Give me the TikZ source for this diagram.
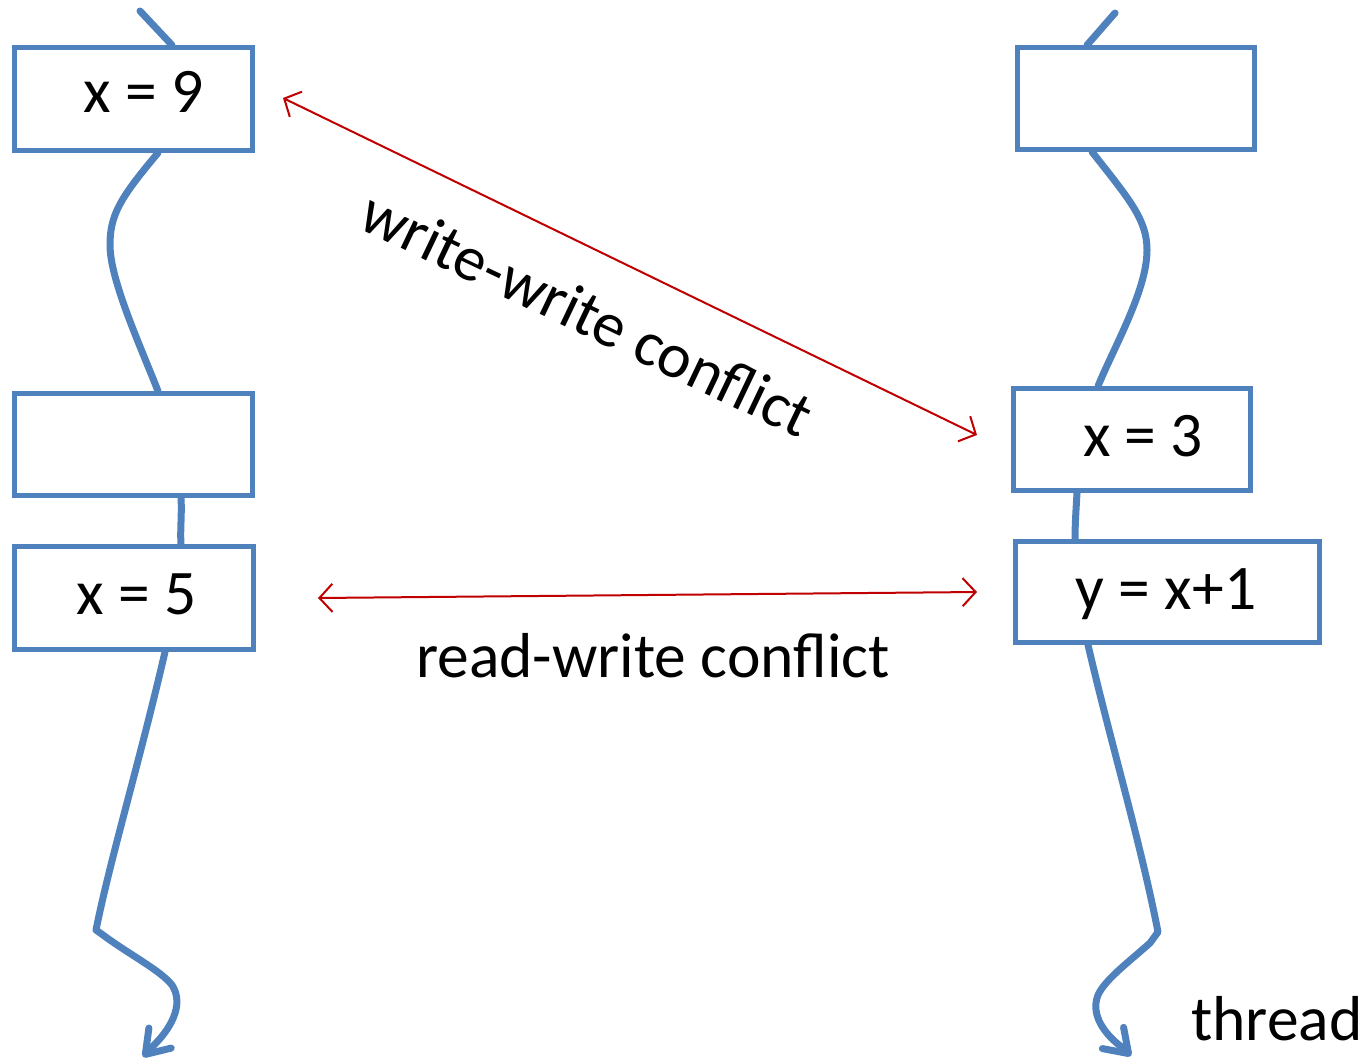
\documentclass[tikz,border=0pt]{standalone}
\usepackage{fontspec}
\setmainfont{Carlito}
\usetikzlibrary{arrows.meta,calc}
\definecolor{threadblue}{HTML}{4F81BD}
\definecolor{conflictred}{HTML}{C00000}
\begin{document}
\begin{tikzpicture}[x=1pt,y=-1pt,
  opbox/.style={draw=threadblue,line width=4.8pt,inner sep=0pt,minimum width=#1},
  opbox/.default=238pt,
  optext/.style={anchor=base,inner sep=0pt,font=\fontsize{63.5}{76}\selectfont},
  thread/.style={draw=threadblue,line width=7pt,line cap=round,line join=round},
  threadtip/.style={-{Straight Barb[length=22pt,width=30pt,round]}},
  conflict/.style={draw=conflictred,line width=2pt,{Straight Barb[length=13pt,width=28pt]}-{Straight Barb[length=13pt,width=28pt]}}]
\useasboundingbox (0,0) rectangle (1367,1060);

% left thread: operation boxes
\node[opbox,minimum height=103pt] (L1) at (133.5,99) {};
\node[opbox,minimum height=102pt] (L2) at (133.5,444.5) {};
\node[opbox=239pt,minimum height=103pt] (L3) at (134,598) {};
% right thread: operation boxes
\node[opbox=237pt,minimum height=102pt] (R1) at (1136,98.5) {};
\node[opbox=237pt,minimum height=102pt] (R2) at (1132,439.5) {};
\node[opbox=304pt,minimum height=101pt] (R3) at (1167.5,592) {};

% statements
\node[optext] (tL1) at (144,112) {x = 9};
\node[optext] (tL3) at (137,614) {x = 5};
\node[optext] (tR2) at (1143,456) {x = 3};
\node[optext] (tR3) at (1166,609) {y = x+1};

% left thread line
\coordinate (Ltop) at (140,11);
\coordinate (Lend) at (143,1057);
\draw[thread] (Ltop) -- (L1.north -| 172,0);
\draw[thread] (L1.south -| 158,0) .. controls (120,198) and (110,215) .. (110,245)
  .. controls (110,280) and (140,345) .. (L2.north -| 158,0);
\draw[thread] (L2.south -| 181,0) .. controls (182,515) and (180,530) .. (L3.north -| 181,0);
\draw[thread] (L3.south -| 165,0) .. controls (140,760) and (110,860) .. (96,930)
  -- (103,935) .. controls (130,955) and (160,970) .. (172,985)
  .. controls (185,1005) and (170,1030) .. (152,1047);
\draw[thread,threadtip] (152,1047) -- (Lend);

% right thread line
\coordinate (Rtop) at (1115,13);
\coordinate (Rend) at (1131,1056);
\draw[thread] (Rtop) -- (R1.north -| 1087,0);
\draw[thread] (R1.south -| 1092,0) .. controls (1130,200) and (1147,220) .. (1147,250)
  .. controls (1147,290) and (1115,345) .. (R2.north -| 1098,0);
\draw[thread] (R2.south -| 1077,0) .. controls (1076,510) and (1075,525) .. (R3.north -| 1075,0);
\draw[thread] (R3.south -| 1088,0) .. controls (1110,740) and (1140,840) .. (1158,932)
  -- (1150,943) .. controls (1125,965) and (1105,980) .. (1098,995)
  .. controls (1090,1015) and (1105,1035) .. (1123,1048);
\draw[thread,threadtip] (1123,1048) -- (Rend);

% conflicts between the two threads
\coordinate (wwA) at (283,98);
\coordinate (wwB) at (977,435);
\coordinate (rwA) at (318,598);
\coordinate (rwB) at (977,592);
\draw[conflict] (wwA) -- (wwB);
\draw[conflict] (rwA) -- (rwB);
\node[optext,rotate=-25.5] (wwlabel) at (578,333) {write-write conflict};
\node[optext] (rwlabel) at (653,677) {read-write conflict};
\node[optext] (threadlabel) at (1277,1040) {thread};
\end{tikzpicture}
\end{document}
